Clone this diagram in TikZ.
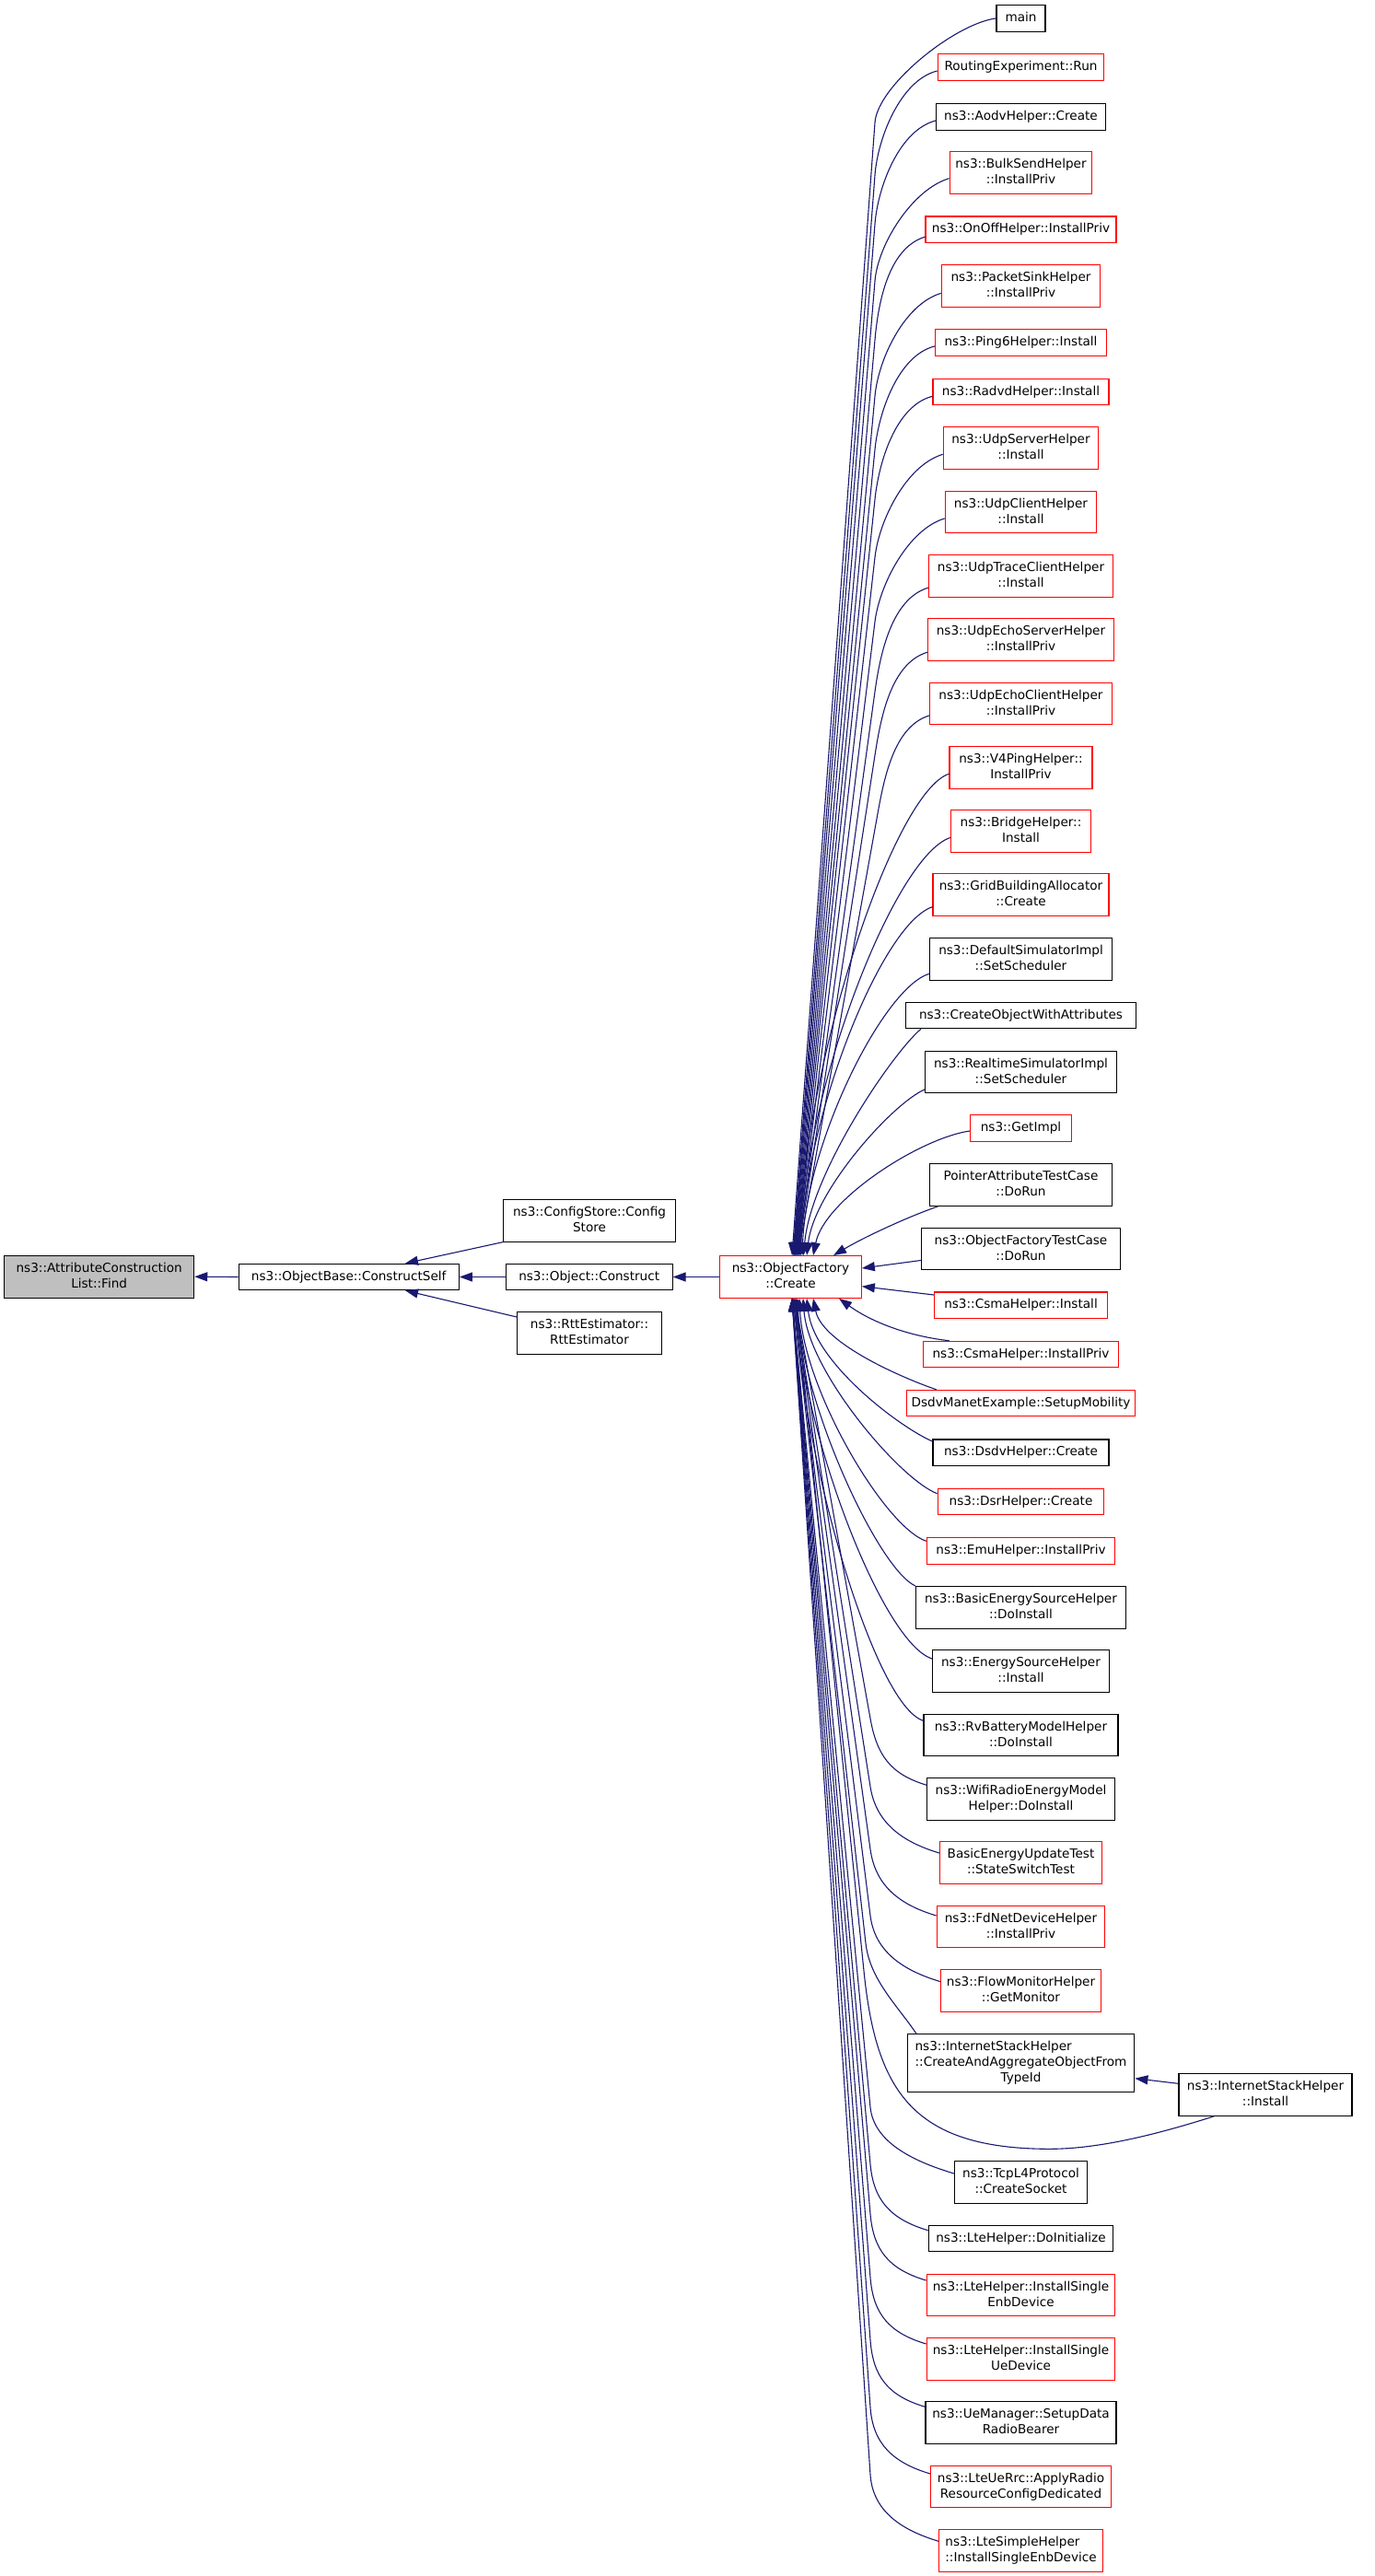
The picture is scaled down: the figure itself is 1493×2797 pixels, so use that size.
\documentclass[tikz,border=0pt]{standalone}
\usepackage{fontspec}
\setmainfont{DejaVu Sans}
\usetikzlibrary{arrows.meta,calc}
\definecolor{edgeblue}{HTML}{191970}
\definecolor{gfill}{HTML}{BFBFBF}
\definecolor{boxred}{HTML}{FF0000}
\newcommand\NodeFont{\fontsize{13.6}{17}\selectfont}
\newcommand\Ls{\rule[-3.3pt]{0pt}{14.1pt}}
\newcommand\EdgeKnee[4]{\draw[cl] (#1) -- (#2) .. controls ($(#2)!-40pt!(#1)$) and +(#4) .. (#3);}
\newcommand\EdgeCurve[4]{\draw[cl] (#1) .. controls +(#2) and +(#3) .. (#4);}
\begin{document}
\begin{tikzpicture}[x=1pt,y=-1pt,>={Triangle[length=14pt,width=10pt]},
  nd/.style={draw, line width=1.1pt, inner sep=0pt, font=\NodeFont, align=center},
  bk/.style={nd, draw=black},
  rd/.style={nd, draw=boxred},
  hA/.style={minimum height=28.4pt},
  hB/.style={minimum height=45.7pt},
  hC/.style={minimum height=62.3pt},
  cl/.style={draw=edgeblue, line width=1.1pt, <-}]
\fill[white] (0,0) rectangle (1493,2797);
\useasboundingbox (0,0) rectangle (1493,2797);

% left part
\node[bk,hB,fill=gfill,minimum width=206pt] (find) at (107.7,1386.2) {\Ls ns3::AttributeConstruction\\\Ls List::Find};
\node[bk,hA,minimum width=239.3pt] (cself) at (378.7,1386.5) {\Ls ns3::ObjectBase::ConstructSelf};
\node[bk,hB,minimum width=186.6pt] (cstore) at (640,1325.2) {\Ls ns3::ConfigStore::Config\\\Ls Store};
\node[bk,hA,minimum width=180.7pt] (ocons) at (639.7,1386.5) {\Ls ns3::Object::Construct};
\node[bk,hB,minimum width=156.6pt] (rtt) at (640,1447.5) {\Ls ns3::RttEstimator::\\\Ls RttEstimator};
\node[rd,hB,minimum width=153.6pt] (create) at (858.5,1386.5) {\Ls ns3::ObjectFactory\\\Ls ::Create};

% right column
\node[bk,hA,minimum width=53pt] (n1) at (1108.5,19.9) {\Ls main};
\node[rd,hA,minimum width=180.7pt] (n2) at (1108.5,73) {\Ls RoutingExperiment::Run};
\node[bk,hA,minimum width=183.3pt] (n3) at (1108.5,126.9) {\Ls ns3::AodvHelper::Create};
\node[rd,hB,minimum width=154.7pt] (n4) at (1108.5,187.7) {\Ls ns3::BulkSendHelper\\\Ls ::InstallPriv};
\node[rd,hA,minimum width=207pt] (n5) at (1108.5,249.2) {\Ls ns3::OnOffHelper::InstallPriv};
\node[rd,hB,minimum width=172.4pt] (n6) at (1108.5,310.4) {\Ls ns3::PacketSinkHelper\\\Ls ::InstallPriv};
\node[rd,hA,minimum width=186pt] (n7) at (1108.5,371.9) {\Ls ns3::Ping6Helper::Install};
\node[rd,hA,minimum width=191pt] (n8) at (1108.5,425.3) {\Ls ns3::RadvdHelper::Install};
\node[rd,hB,minimum width=168.4pt] (n9) at (1108.5,486.3) {\Ls ns3::UdpServerHelper\\\Ls ::Install};
\node[rd,hB,minimum width=164.4pt] (n10) at (1108.5,555.9) {\Ls ns3::UdpClientHelper\\\Ls ::Install};
\node[rd,hB,minimum width=200.4pt] (n11) at (1108.5,625.2) {\Ls ns3::UdpTraceClientHelper\\\Ls ::Install};
\node[rd,hB,minimum width=202pt] (n12) at (1108.5,694.2) {\Ls ns3::UdpEchoServerHelper\\\Ls ::InstallPriv};
\node[rd,hB,minimum width=197.6pt] (n13) at (1108.5,763.9) {\Ls ns3::UdpEchoClientHelper\\\Ls ::InstallPriv};
\node[rd,hB,minimum width=155pt] (n14) at (1108.5,833.2) {\Ls ns3::V4PingHelper::\\\Ls InstallPriv};
\node[rd,hB,minimum width=152.4pt] (n15) at (1108.5,902.5) {\Ls ns3::BridgeHelper::\\\Ls Install};
\node[rd,hB,minimum width=191pt] (n16) at (1108.5,971.7) {\Ls ns3::GridBuildingAllocator\\\Ls ::Create};
\node[bk,hB,minimum width=197.6pt] (n17) at (1108.5,1041.2) {\Ls ns3::DefaultSimulatorImpl\\\Ls ::SetScheduler};
\node[bk,hA,minimum width=250.7pt] (n18) at (1108.5,1102.5) {\Ls ns3::CreateObjectWithAttributes};
\node[bk,hB,minimum width=207.6pt] (n19) at (1108.5,1163.9) {\Ls ns3::RealtimeSimulatorImpl\\\Ls ::SetScheduler};
\node[rd,hA,minimum width=110pt] (n20) at (1108.5,1225) {\Ls ns3::GetImpl};
\node[bk,hB,minimum width=197.6pt] (n21) at (1108.5,1286.5) {\Ls PointerAttributeTestCase\\\Ls ::DoRun};
\node[bk,hB,minimum width=216.4pt] (n22) at (1108.5,1355.9) {\Ls ns3::ObjectFactoryTestCase\\\Ls ::DoRun};
\node[rd,hA,minimum width=187.6pt] (n23) at (1108.5,1417.2) {\Ls ns3::CsmaHelper::Install};
\node[rd,hA,minimum width=212.4pt] (n24) at (1108.5,1470.5) {\Ls ns3::CsmaHelper::InstallPriv};
\node[rd,hA,minimum width=248.4pt] (n25) at (1108.5,1523.5) {\Ls DsdvManetExample::SetupMobility};
\node[bk,hA,minimum width=191pt] (n26) at (1108.5,1577.2) {\Ls ns3::DsdvHelper::Create};
\node[rd,hA,minimum width=180.7pt] (n27) at (1108.5,1630.5) {\Ls ns3::DsrHelper::Create};
\node[rd,hA,minimum width=204.4pt] (n28) at (1108.5,1683.9) {\Ls ns3::EmuHelper::InstallPriv};
\node[bk,hB,minimum width=228pt] (n29) at (1108.5,1745.4) {\Ls ns3::BasicEnergySourceHelper\\\Ls ::DoInstall};
\node[bk,hB,minimum width=192pt] (n30) at (1108.5,1814.5) {\Ls ns3::EnergySourceHelper\\\Ls ::Install};
\node[bk,hB,minimum width=211pt] (n31) at (1108.5,1884) {\Ls ns3::RvBatteryModelHelper\\\Ls ::DoInstall};
\node[bk,hB,minimum width=203.3pt] (n32) at (1108.5,1953.4) {\Ls ns3::WifiRadioEnergyModel\\\Ls Helper::DoInstall};
\node[rd,hB,minimum width=176pt] (n33) at (1108.5,2022.3) {\Ls BasicEnergyUpdateTest\\\Ls ::StateSwitchTest};
\node[rd,hB,minimum width=182.7pt] (n34) at (1108.5,2091.9) {\Ls ns3::FdNetDeviceHelper\\\Ls ::InstallPriv};
\node[rd,hB,minimum width=173.3pt] (n35) at (1108.5,2161.2) {\Ls ns3::FlowMonitorHelper\\\Ls ::GetMonitor};
\node[bk,hC,minimum width=246.7pt] (n36) at (1108.5,2239.9) {\begin{tabular}{@{}l@{}}\Ls ns3::InternetStackHelper\\\Ls ::CreateAndAggregateObjectFrom\\\multicolumn{1}{@{}c@{}}{\Ls TypeId}\end{tabular}};
\node[bk,hB,minimum width=144pt] (n37) at (1108.5,2369.4) {\Ls ns3::TcpL4Protocol\\\Ls ::CreateSocket};
\node[bk,hA,minimum width=200.7pt] (n38) at (1108.5,2430.5) {\Ls ns3::LteHelper::DoInitialize};
\node[rd,hB,minimum width=204.7pt] (n39) at (1108.5,2491.9) {\Ls ns3::LteHelper::InstallSingle\\\Ls EnbDevice};
\node[rd,hB,minimum width=204.7pt] (n40) at (1108.5,2561.2) {\Ls ns3::LteHelper::InstallSingle\\\Ls UeDevice};
\node[bk,hB,minimum width=207pt] (n41) at (1108.5,2630.5) {\Ls ns3::UeManager::SetupData\\\Ls RadioBearer};
\node[rd,hB,minimum width=195.7pt] (n42) at (1108.5,2699.9) {\Ls ns3::LteUeRrc::ApplyRadio\\\Ls ResourceConfigDedicated};
\node[rd,hB,minimum width=177.3pt,align=left] (n43) at (1108.5,2769.4) {\Ls ns3::LteSimpleHelper\\\Ls ::InstallSingleEnbDevice};
\node[bk,hB,minimum width=188pt] (ish) at (1374,2274.5) {\Ls ns3::InternetStackHelper\\\Ls ::Install};

% left edges
\draw[cl] (find.east) -- (cself.west);
\draw[cl] ([xshift=61.3pt]cself.north) -- (cstore.south west);
\draw[cl] (cself.east) -- (ocons.west);
\draw[cl] ([xshift=61.3pt]cself.south) -- ([yshift=17.5pt]rtt.west);
\draw[cl] (ocons.east) -- (create.west);

% top edges (knee)
\EdgeKnee{[xshift=1.5pt]create.north}{950,133}{n1.west}{-45,6}
\EdgeKnee{[xshift=2.5pt]create.north}{950,190}{[yshift=-4pt]n2.west}{-40,10}
\EdgeKnee{[xshift=3pt]create.north}{950,243}{[yshift=-4pt]n3.west}{-40,10}
\EdgeKnee{[xshift=3.5pt]create.north}{950,305}{[yshift=-6pt]n4.west}{-40,12}
\EdgeKnee{[xshift=4pt]create.north}{950,369}{[yshift=-8pt]n5.west}{-40,12}
\EdgeKnee{[xshift=4.5pt]create.north}{950,430}{[yshift=-8pt]n6.west}{-40,12}
\EdgeKnee{[xshift=5pt]create.north}{950,488}{[yshift=-4pt]n7.west}{-40,10}
\EdgeKnee{[xshift=5.5pt]create.north}{950,542}{[yshift=-5pt]n8.west}{-40,10}
\EdgeKnee{[xshift=6pt]create.north}{950,605}{[yshift=-7pt]n9.west}{-40,12}
\EdgeKnee{[xshift=6.5pt]create.north}{950,675}{[yshift=-7pt]n10.west}{-40,12}
\EdgeKnee{[xshift=7pt]create.north}{950,751}{[yshift=-13pt]n11.west}{-40,12}
\EdgeKnee{[xshift=7.5pt]create.north}{950,820}{[yshift=-14pt]n12.west}{-40,12}
\EdgeKnee{[xshift=8pt]create.north}{952,889}{[yshift=-13pt]n13.west}{-40,12}
% top edges (curves)
\EdgeCurve{[xshift=9pt]create.north}{5,-209}{-60,20}{[yshift=-7pt]n14.west}
\EdgeCurve{[xshift=10pt]create.north}{5,-182}{-60,20}{[yshift=-7pt]n15.west}
\EdgeCurve{[xshift=11pt]create.north}{5,-151}{-55,18}{[yshift=-13pt]n16.west}
\EdgeCurve{[xshift=12.5pt]create.north}{5,-123}{-50,15}{[yshift=-16pt]n17.west}
\EdgeCurve{[xshift=14pt]create.north}{8,-90}{-30,25}{[xshift=-108.5pt]n18.south}
\EdgeCurve{[xshift=17.5pt]create.north}{8,-70}{-35,15}{[yshift=-19pt]n19.west}
\EdgeCurve{[xshift=24.5pt]create.north}{12,-60}{-55,8}{[yshift=-3pt]n20.west}
\EdgeCurve{[xshift=46.5pt]create.north}{30,-18}{-35,12}{[xshift=-90pt]n21.south}
% right side
\draw[cl] ([yshift=9.5pt]create.east) -- ([yshift=-12.6pt]n22.west);
\draw[cl] ([yshift=-10.2pt]create.east) -- ([yshift=11.2pt]n23.west);
\draw[cl] ([xshift=52.5pt]create.south) .. controls +(36,26) and +(-44,-5) .. ([xshift=-77.8pt]n24.north);
% bottom edges (curves)
\EdgeCurve{[xshift=24.5pt]create.south}{10,50}{-30,-10}{[xshift=-91.8pt]n25.north}
\EdgeCurve{[xshift=17.5pt]create.south}{8,70}{-35,-15}{[yshift=12.2pt]n26.west}
\EdgeCurve{[xshift=13.5pt]create.south}{6,80}{-40,-15}{[yshift=8.8pt]n27.west}
\EdgeCurve{[xshift=9.5pt]create.south}{5,100}{-45,-15}{[yshift=10.6pt]n28.west}
\EdgeCurve{[xshift=7.5pt]create.south}{5,115}{-40,-18}{n29.north west}
\EdgeCurve{[xshift=6.5pt]create.south}{5,140}{-55,-18}{[yshift=13.5pt]n30.west}
\EdgeCurve{[xshift=5.5pt]create.south}{5,160}{-55,-18}{[yshift=15.7pt]n31.west}
% bottom edges (knee)
\EdgeKnee{[xshift=4.5pt]create.south}{945,1866}{[yshift=15.1pt]n32.west}{-40,-12}
\EdgeKnee{[xshift=3.5pt]create.south}{945,1940}{[yshift=10.3pt]n33.west}{-40,-12}
\EdgeKnee{[xshift=3.5pt]create.south}{945,2008}{[yshift=11.9pt]n34.west}{-40,-12}
\EdgeKnee{[xshift=2.5pt]create.south}{945,2080}{[yshift=9.5pt]n35.west}{-40,-12}
\EdgeKnee{[xshift=2.5pt]create.south}{940,2110}{[xshift=-113.5pt]n36.north}{-20,-30}
\EdgeKnee{[xshift=1.5pt]create.south}{945,2288}{[yshift=9.4pt]n37.west}{-40,-12}
\EdgeKnee{[xshift=1.5pt]create.south}{945,2350}{[yshift=8.8pt]n38.west}{-40,-12}
\EdgeKnee{[xshift=1.5pt]create.south}{945,2404}{[yshift=15.9pt]n39.west}{-40,-12}
\EdgeKnee{[xshift=1.5pt]create.south}{945,2473}{[yshift=16.2pt]n40.west}{-40,-12}
\EdgeKnee{[xshift=1.5pt]create.south}{945,2541}{[yshift=17.2pt]n41.west}{-40,-12}
\EdgeKnee{[xshift=1.5pt]create.south}{945,2614}{[yshift=13.9pt]n42.west}{-40,-12}
\EdgeKnee{[xshift=1.5pt]create.south}{945,2687}{[yshift=10.1pt]n43.west}{-40,-12}
% InternetStackHelper::Install
\draw[cl] ([yshift=-16.8pt]n36.east) -- ([yshift=12.2pt]ish.west);
\draw[cl] ([xshift=5.5pt]create.south) -- (938,2140) .. controls ($(938,2140)!-130pt!([xshift=5.5pt]create.south)$) and (990,2333.3) .. (1140,2333.3) .. controls (1200,2333.3) and (1270,2313) .. ([xshift=-56pt]ish.south);
\end{tikzpicture}
\end{document}
